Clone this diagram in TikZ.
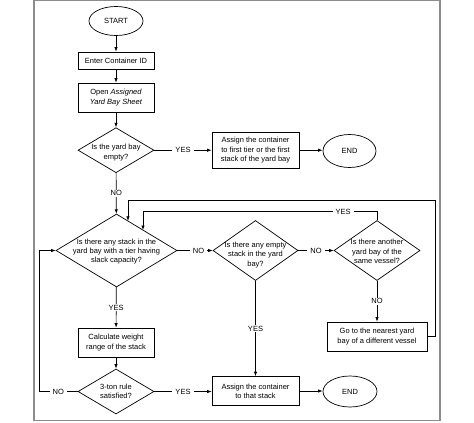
\documentclass[tikz,border=0pt]{standalone}
\usepackage{fontspec}
\setmainfont{Liberation Sans}
\usetikzlibrary{shapes.geometric,arrows.meta}
\begin{document}
\begin{tikzpicture}[x=1pt,y=-1pt,
  font=\fontsize{7.5}{9.3}\selectfont,
  line width=0.7pt,
  box/.style={draw,rectangle,align=center,inner sep=0pt},
  dia/.style={draw,diamond,inner sep=0pt},
  term/.style={draw,ellipse,inner sep=0pt},
  txt/.style={align=center,inner sep=0pt},
  lbl/.style={fill=white,inner xsep=3pt,inner ysep=1pt},
  arr/.style={-{Latex[length=4.5pt,width=3.4pt]}},
  frame/.style={draw=black!45,line width=1.6pt}
]
\useasboundingbox (0,0) rectangle (474,423);
\path[frame] (34,0.5) rectangle (440,420.5);

% nodes
\node[term, minimum width=54pt, minimum height=29pt] (start) at (116,21) {START};
\node[box, minimum width=76pt, minimum height=17pt] (enter) at (116,60.5) {Enter Container ID};
\node[box, minimum width=76pt, minimum height=29pt] (open) at (116,97.5) {Open \textit{Assigned}\\\textit{Yard Bay Sheet}};
\node[dia, minimum width=76pt, minimum height=45pt] (q1) at (116,150.2) {};
\node[txt] (q1t) at (116,152.5) {Is the yard bay\\empty?};
\node[box, minimum width=87pt, minimum height=36pt] (assign1) at (255.5,150.2) {Assign the container\\to first tier or the first\\stack of the yard bay};
\node[term, minimum width=53pt, minimum height=33pt] (end1) at (349.5,151) {END};

\node[dia, minimum width=121pt, minimum height=73pt] (q2) at (116.5,250.5) {};
\node[txt] (q2t) at (116.5,251.5) {Is there any stack in the\\yard bay with a tier having\\slack capacity?};
\node[dia, minimum width=85pt, minimum height=60pt] (q3) at (255.5,250.5) {};
\node[txt] (q3t) at (255.5,255) {Is there any empty\\stack in the yard\\bay?};
\node[dia, minimum width=86pt, minimum height=60pt] (q4) at (377,250.5) {};
\node[txt] (q4t) at (377,251.5) {Is there another\\yard bay of the\\same vessel?};
\node[box, minimum width=100pt, minimum height=29pt] (goto) at (377,336.5) {Go to the nearest yard\\bay of a different vessel};

\node[box, minimum width=76pt, minimum height=29pt] (calc) at (116,342.5) {Calculate weight\\range of the stack};
\node[dia, minimum width=76pt, minimum height=45pt] (q5) at (116,391.5) {};
\node[txt] (q5t) at (116,391.5) {3-ton rule\\satisfied?};
\node[box, minimum width=87pt, minimum height=29pt] (assign2) at (255.5,391) {Assign the container\\to that stack};
\node[term, minimum width=54pt, minimum height=31pt] (end2) at (350,391.5) {END};

% helper coordinates
\coordinate (c1) at (435,200);
\coordinate (c2) at (128,200);
\coordinate (c3) at (377,211.5);
\coordinate (c4) at (143,211.5);
\coordinate (c5) at (39,391.5);

% connectors
\draw[arr] (start) -- (enter);
\draw[arr] (enter) -- (open);
\draw[arr] (open) -- (q1);
\draw[arr] (q1.east) -- node[lbl]{YES} (q1.east -| assign1.west);
\draw[arr] (assign1.east) -- (assign1.east -| end1.west);
\draw[arr] (q1) -- node[lbl]{NO} (q2);
\draw[arr] (q2.east) -- node[lbl,pos=0.6]{NO} (q3.west);
\draw[arr] (q3.east) -- node[lbl]{NO} (q4.west);
\draw[arr] (q4) -- node[lbl]{NO} (goto);
\draw[arr] (q3) -- node[lbl]{YES} (assign2);
\draw[arr] (q2) -- node[lbl]{YES} (calc);
\draw[arr] (calc) -- (q5);
\draw[arr] (q5.east) -- node[lbl]{YES} (q5.east -| assign2.west);
\draw[arr] (assign2.east) -- (assign2.east -| end2.west);
\draw[arr] (goto.east) -- (goto.east -| c1) -- (c1) -- (c2) -- (c2 |- q2.68.7);
\draw[arr] (q4.north) -- (c3) -- node[lbl,pos=0.145]{YES} (c4) -- (c4 |- q2.37.7);
\draw[arr] (q5.west) -- node[lbl]{NO} (c5) -- (c5 |- q2.west) -- (q2.west);
\end{tikzpicture}
\end{document}
